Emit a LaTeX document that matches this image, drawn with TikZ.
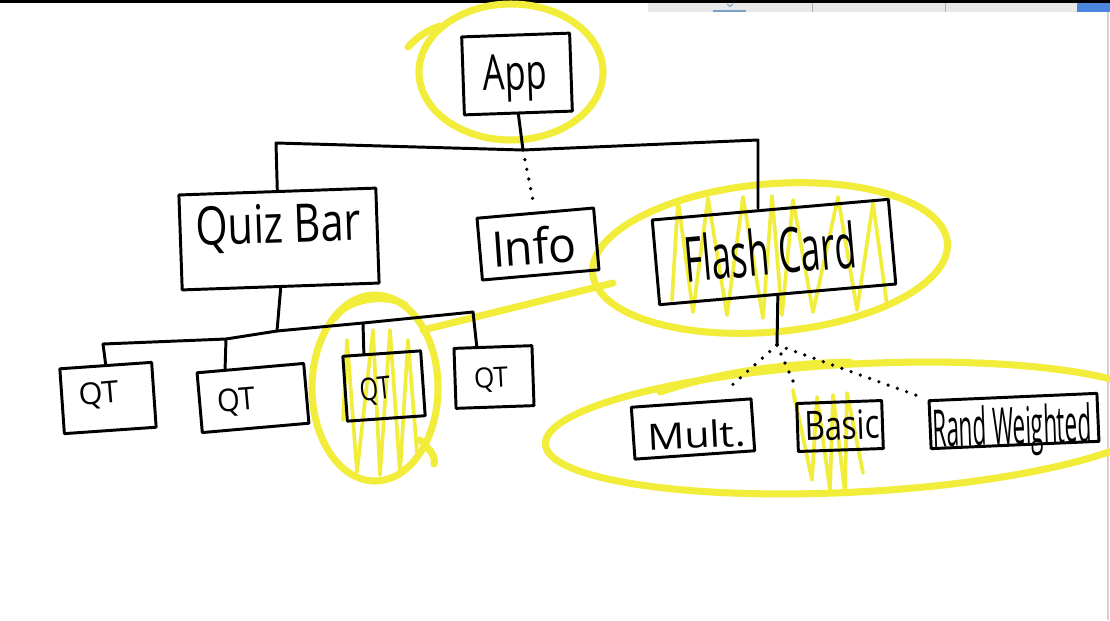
\documentclass[tikz,border=0pt]{standalone}
\usepackage{fontspec}
\setmainfont{Open Sans}
\usetikzlibrary{calc}
\newlength\pu \setlength\pu{0.025cm}
\newcommand\hw[3]{\resizebox*{#1\pu}{#2\pu}{#3}}
\definecolor{hly}{RGB}{242,236,58}
\definecolor{barblue}{RGB}{74,134,221}
\definecolor{bargray}{RGB}{232,232,232}
\definecolor{chev}{RGB}{120,160,200}
\begin{document}
\begin{tikzpicture}[x=0.025cm, y=-0.025cm,
  boxnode/.style={draw, line width=2.1pt, inner sep=0pt, line join=round},
  lbl/.style={inner sep=0pt},
  wire/.style={line width=2.1pt, line cap=round, line join=round},
  dots/.style={line width=2.6pt, line cap=round, dash pattern=on 0pt off 7pt},
  hl/.style={draw=hly, line width=5pt, line cap=round, line join=round},
  scrib/.style={draw=hly, line width=2.6pt, line cap=round, line join=round}]
\useasboundingbox (0,0) rectangle (1110,620);
\fill[white] (0,0) rectangle (1110,620);
% window chrome
\fill[black] (0,0) rectangle (1110,2.5);
\fill[bargray] (648,2.5) rectangle (1077,12);
\draw[gray!60, line width=0.7pt] (812,2.5) -- (812,12) (945,2.5) -- (945,12);
\fill[barblue] (1077,2.5) rectangle (1110,12);
\draw[chev, line width=0.7pt] (727,4) -- (730,6.5) -- (733,4);
\draw[chev, line width=1pt] (713,11) -- (746,11);
\draw[gray!35, line width=0.8pt] (1108,12) -- (1108,620);

% yellow highlights
\draw[hl] (511,72) ellipse [x radius=92, y radius=68];
\draw[hl] (408,47) .. controls (418,36) and (428,30) .. (440,26);
\draw[hl, rotate around={5:(770,258)}] (770,258) ellipse [x radius=178, y radius=74];
\draw[hl] (423,330) -- (613,283);
\draw[hl] (375,388) ellipse [x radius=63, y radius=93];
\draw[hl] (335,318) .. controls (345,300) and (385,292) .. (405,305);
\draw[hl] (420,440) .. controls (430,450) and (436,456) .. (434,464);
\draw[hl, rotate around={3:(855,428)}] (855,428) ellipse [x radius=310, y radius=64];
\draw[hl] (660,392) .. controls (720,372) and (780,364) .. (850,362);
\draw[scrib] (672,300) -- (678,200) -- (693,312) -- (708,198) -- (727,315) -- (743,197) -- (763,318) -- (772,196) -- (782,315) -- (793,200) -- (813,312) -- (838,197) -- (857,310) -- (873,203) -- (887,305);
\draw[scrib] (343,420) -- (347,340) -- (357,472) -- (373,330) -- (380,475) -- (390,330) -- (400,473) -- (408,340) -- (417,453);
\draw[scrib] (795,402) -- (793,390) -- (812,480) -- (817,397) -- (830,490) -- (833,395) -- (845,493) -- (847,393) -- (863,473);

% boxes
\node[boxnode, minimum width=108\pu, minimum height=78\pu, rotate=2,
  label={[lbl, rotate=2, xshift=-2\pu, yshift=-4\pu]center:\hw{64}{47}{App}}] (app) at (517,74) {};
\node[boxnode, minimum width=197\pu, minimum height=95\pu, rotate=2,
  label={[lbl, rotate=2, yshift=11\pu]center:\hw{165}{48}{Quiz Bar}}] (quiz) at (279,239) {};
\node[boxnode, minimum width=117\pu, minimum height=62\pu, rotate=5,
  label={[lbl, rotate=4, xshift=-4\pu, yshift=-2\pu]center:\hw{85}{38}{Info}}] (info) at (538,244) {};
\node[boxnode, minimum width=237\pu, minimum height=85\pu, rotate=5,
  label={[lbl, rotate=5, xshift=-4\pu, yshift=1\pu]center:\hw{172}{48}{Flash Card}}] (flash) at (774,252) {};
\node[boxnode, minimum width=92\pu, minimum height=65\pu, rotate=4,
  label={[lbl, rotate=5, xshift=-9\pu, yshift=3\pu]center:\hw{40}{27}{QT}}] (qt1) at (108,398) {};
\node[boxnode, minimum width=107\pu, minimum height=60\pu, rotate=5,
  label={[lbl, rotate=5, xshift=-17\pu, yshift=-3\pu]center:\hw{38}{28}{QT}}] (qt2) at (253,398) {};
\node[boxnode, minimum width=78\pu, minimum height=65\pu, rotate=4,
  label={[lbl, rotate=6, xshift=-9\pu, yshift=-4\pu]center:\hw{31}{28}{QT}}] (qt3) at (384,386) {};
\node[boxnode, minimum width=78\pu, minimum height=60\pu, rotate=2,
  label={[lbl, rotate=3, xshift=-3\pu, yshift=-3\pu]center:\hw{34}{25}{QT}}] (qt4) at (494,377) {};
\node[boxnode, minimum width=120\pu, minimum height=52\pu, rotate=4,
  label={[lbl, rotate=3, xshift=3\pu, yshift=-6\pu]center:\hw{98}{28}{Mult.}}] (multi) at (693,429) {};
\node[boxnode, minimum width=85\pu, minimum height=48\pu, rotate=2,
  label={[lbl, rotate=2, xshift=2\pu, yshift=1\pu]center:\hw{75}{30}{Basic}}] (basic) at (840,426) {};
\node[boxnode, minimum width=168\pu, minimum height=48\pu, rotate=2.5,
  label={[lbl, rotate=2, xshift=-2\pu, yshift=-10\pu]center:\hw{159}{52}{Rand Weighted}}] (rw) at (1014,421) {};

% connectors
\coordinate (j1) at (523,150);
\coordinate (bL) at (276,143);
\coordinate (bR) at (758,140);
\draw[wire] (app.south) -- (j1);
\draw[wire] (quiz.north) -- (bL) -- (j1) -- (bR) -- (bR |- flash.north);
\draw[dots, shorten >=8\pu] (j1) -- (info.north);

\coordinate (j2) at (277,331);
\coordinate (b1) at (103,344);
\coordinate (b2) at (226,339);
\coordinate (b3) at (363,323);
\coordinate (b4) at (473,312);
\draw[wire] (quiz.south) -- (j2);
\draw[wire] (b1) -- (b2) -- (j2) -- (b3) -- (b4);
\draw[wire] (b1) -- (qt1.north);
\draw[wire] (b2) -- ($(qt2.north west)!0.27!(qt2.north east)$);
\draw[wire] (b3) -- ($(qt3.north west)!0.28!(qt3.north east)$);
\draw[wire] (b4) -- ($(qt4.north west)!0.3!(qt4.north east)$);

\coordinate (j3) at (777,345);
\draw[wire] (flash.south) -- (j3);
\draw[dots, shorten >=14\pu] (j3) -- ($(multi.north)!0.4!(multi.north east)$);
\draw[dots, shorten >=14\pu] (j3) -- ($(basic.north west)!0.08!(basic.north east)$);
\draw[dots, shorten >=8\pu] (j3) -- (rw.north west);
\end{tikzpicture}
\end{document}
